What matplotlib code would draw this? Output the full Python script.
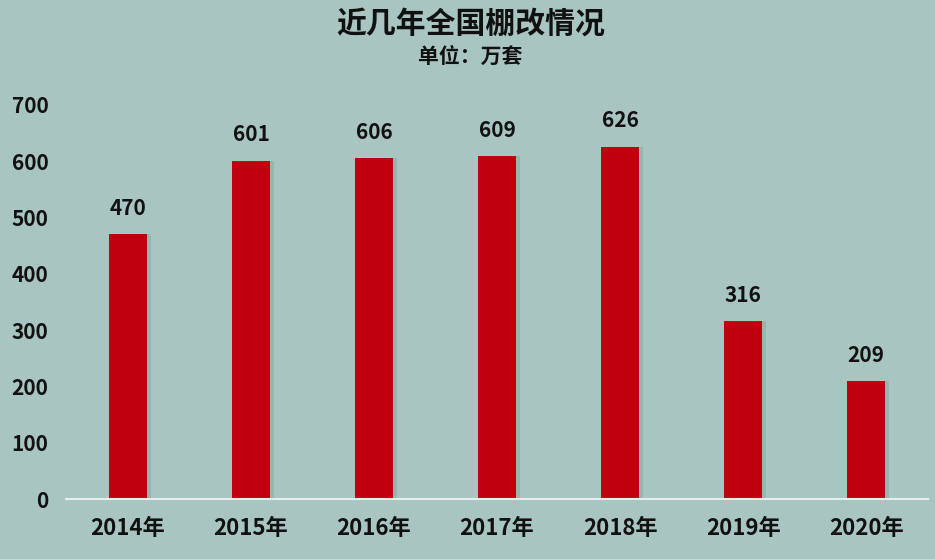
import matplotlib
matplotlib.use('Agg')
import matplotlib.pyplot as plt
import numpy as np

plt.rcParams['font.family'] = ['Noto Sans CJK SC', 'DejaVu Sans']
plt.rcParams['font.weight'] = 'bold'

years = ['2014年', '2015年', '2016年', '2017年', '2018年', '2019年', '2020年']
values = [470, 601, 606, 609, 626, 316, 209]
yticks = [0, 100, 200, 300, 400, 500, 600, 700]

bg = '#a9c5c1'
red = '#c1000f'

fig = plt.figure(figsize=(9.35, 5.59), dpi=100)
fig.patch.set_facecolor(bg)
ax = fig.add_axes([0.0711, 0.1073, 0.921, 0.705])
ax.set_facecolor(bg)

x = np.arange(len(years))
bw = 0.31
# soft shadow on the right side of each bar
ax.bar(x + 0.028, values, bw, color='#6f918d', alpha=0.3, zorder=2)
bars = ax.bar(x, values, bw, color=red, zorder=3)

for xi, v in zip(x, values):
    ax.annotate(str(v), (xi, v), xytext=(0, 11), textcoords='offset points',
                ha='center', va='bottom', fontsize=15, fontweight='bold', color='#111111')

ax.set_xlim(-0.5, len(years) - 0.5)
ax.set_ylim(0, 700)
ax.set_yticks(yticks)
ax.set_xticks(x)
ax.set_xticklabels(years)
ax.tick_params(axis='both', length=0, labelsize=15, colors='#111111')
ax.tick_params(axis='y', pad=13)
ax.tick_params(axis='x', pad=13, labelsize=16)
for lab in ax.get_xticklabels() + ax.get_yticklabels():
    lab.set_fontweight('bold')

for s in ['top', 'right', 'left']:
    ax.spines[s].set_visible(False)
ax.spines['bottom'].set_color('#e4eeec')
ax.spines['bottom'].set_linewidth(1.5)
ax.spines['bottom'].set_zorder(4)

fig.text(0.503, 0.958, '近几年全国棚改情况', ha='center', va='center',
         fontsize=21.5, fontweight='bold', color='#111111')
fig.text(0.503, 0.900, '单位：万套', ha='center', va='center',
         fontsize=15, fontweight='bold', color='#111111')

fig.savefig('out.png', dpi=100, facecolor=bg)
